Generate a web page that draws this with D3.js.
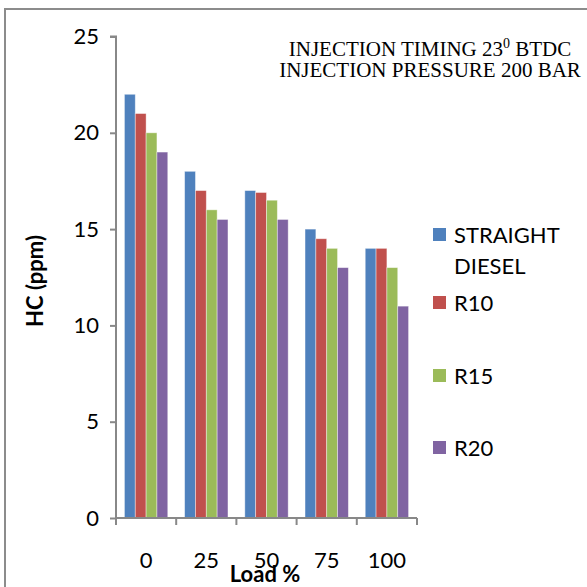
<!DOCTYPE html>
<html>
<head>
<meta charset="utf-8">
<script src="https://cdn.jsdelivr.net/npm/d3@7"></script>
<style>
  body { margin: 0; background: #fff; }
  svg { display: block; }
</style>
</head>
<body>
<div id="chart"></div>
<script>
const loads = ["0", "25", "50", "75", "100"]
const series = ["STRAIGHT DIESEL", "R10", "R15", "R20"]
const colors = ["#4f81bd", "#c0504d", "#9bbb59", "#8064a2"]
const straightDiesel = [22, 18, 17, 15, 14]
const r10 = [21, 17, 16.9, 14.5, 14]
const r15 = [20, 16, 16.5, 14, 13]
const r20 = [19, 15.5, 15.5, 13, 11]
const yTicks = [0, 5, 10, 15, 20, 25]

const values = [straightDiesel, r10, r15, r20]

const width = 587, height = 587
const sans = "Lato, 'Open Sans', sans-serif"
const svg = d3.select("#chart").append("svg")
    .attr("width", width)
    .attr("height", height)

// outer frame, runs off the right and bottom edges
svg.append("rect")
    .attr("x", 5).attr("y", 9)
    .attr("width", 600).attr("height", 600)
    .attr("fill", "none")
    .attr("stroke", "#8c8c8c")
    .attr("stroke-width", 2)

const x0 = d3.scaleBand().domain(loads).range([116, 417]).paddingInner(0.28).paddingOuter(0.14)
const x1 = d3.scaleBand().domain(series).range([0, x0.bandwidth()])
const y = d3.scaleLinear().domain([0, 25]).range([518, 36.5])

const rows = loads.map((l, i) => ({load: l, vals: series.map((s, j) => ({s, j, v: values[j][i]}))}))

svg.append("g")
    .selectAll("g")
    .data(rows)
    .join("g")
    .attr("transform", d => `translate(${x0(d.load)},0)`)
    .selectAll("rect")
    .data(d => d.vals)
    .join("rect")
    .attr("x", d => x1(d.s))
    .attr("width", x1.bandwidth())
    .attr("y", d => y(d.v))
    .attr("height", d => y(0) - y(d.v))
    .attr("fill", d => colors[d.j])
    .attr("stroke", "rgba(255,255,255,0.5)")
    .attr("stroke-width", 0.8)

// y axis
const yAxis = svg.append("g")
    .attr("transform", "translate(116,0)")
    .call(d3.axisLeft(y).tickValues(yTicks).tickSize(6).tickPadding(11))
yAxis.selectAll("path, line").attr("stroke", "#888").attr("stroke-width", 2)
yAxis.select(".domain").attr("d", `M-6,${y(25)}H0V${y(0)}`)
yAxis.selectAll("text")
    .attr("font-family", sans)
    .attr("font-size", 22)
    .attr("fill", "#000")

// x axis
const xAxis = svg.append("g")
    .attr("transform", `translate(0,${y(0)})`)
xAxis.append("line")
    .attr("x1", 116).attr("x2", 417)
    .attr("stroke", "#888").attr("stroke-width", 2)
const edges = d3.range(loads.length + 1).map(i => 116 + i * (417 - 116) / loads.length)
xAxis.selectAll(".tk")
    .data(edges)
    .join("line")
    .attr("x1", d => d).attr("x2", d => d)
    .attr("y1", 0).attr("y2", 7)
    .attr("stroke", "#888").attr("stroke-width", 2)
xAxis.selectAll(".lbl")
    .data(loads)
    .join("text")
    .attr("x", d => x0(d) + x0.bandwidth() / 2)
    .attr("y", 50)
    .attr("text-anchor", "middle")
    .attr("font-family", sans)
    .attr("font-size", 22)
    .text(d => d)

// axis titles
svg.append("text")
    .attr("x", 265).attr("y", 582)
    .attr("text-anchor", "middle")
    .attr("font-family", sans)
    .attr("font-weight", "bold")
    .attr("font-size", 22)
    .text("Load %")

svg.append("text")
    .attr("transform", "translate(43,281) rotate(-90)")
    .attr("text-anchor", "middle")
    .attr("font-family", sans)
    .attr("font-weight", "bold")
    .attr("font-size", 22)
    .text("HC (ppm)")

// title block
const title = svg.append("g")
    .attr("font-family", "'Liberation Serif', 'Times New Roman', serif")
    .attr("font-size", 21)
    .attr("text-anchor", "middle")
const t1 = title.append("text").attr("x", 430).attr("y", 56)
t1.append("tspan").text("INJECTION TIMING 23")
t1.append("tspan").attr("dy", -8).attr("font-size", 14).text("0")
t1.append("tspan").attr("dy", 8).text(" BTDC")
title.append("text").attr("x", 430).attr("y", 77).text("INJECTION PRESSURE 200 BAR")

// legend
const legendY = [228, 296, 369, 441]
const legend = svg.append("g")
    .selectAll("g")
    .data(series)
    .join("g")
    .attr("transform", (d, i) => `translate(433,${legendY[i]})`)
legend.append("rect")
    .attr("width", 13).attr("height", 13)
    .attr("fill", (d, i) => colors[i])
legend.append("text")
    .attr("font-family", sans)
    .attr("font-size", 22)
    .selectAll("tspan")
    .data(d => d === "STRAIGHT DIESEL" ? ["STRAIGHT", "DIESEL"] : [d])
    .join("tspan")
    .attr("x", 21)
    .attr("y", (d, i) => 15 + i * 31)
    .text(d => d)
</script>
</body>
</html>
